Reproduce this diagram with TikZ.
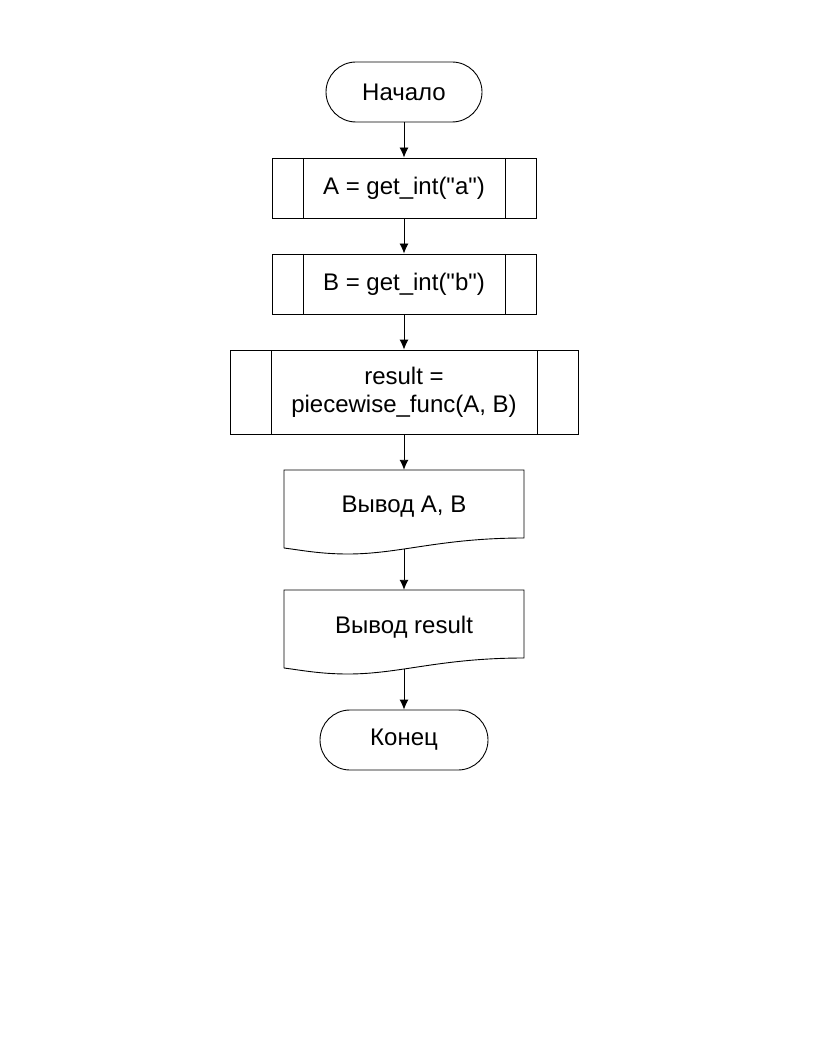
\documentclass[tikz,border=0pt]{standalone}
\usepackage{fontspec}
\setmainfont{Liberation Sans}[Ligatures=TeXOff]
\usetikzlibrary{arrows.meta}
\begin{document}
\begin{tikzpicture}[x=1pt,y=-1pt,
  every node/.style={font=\fontsize{24}{28}\selectfont, align=center, inner sep=0pt},
  line/.style={line width=0.9pt, draw=black},
  term/.style={line, rounded corners=30pt, minimum height=60pt},
  proc/.style={line, rectangle, minimum height=60pt},
  docbox/.style={minimum width=240pt, minimum height=74pt},
  arr/.style={line, -{Latex[length=10pt,width=9pt]}}
]
\useasboundingbox (0,0) rectangle (816,1056);
\fill[white] (0,0) rectangle (816,1056);

% Start
\node[term, minimum width=156pt] (start) at (404,92) {Начало};

% A = get_int
\node[proc, minimum width=264pt] (a) at (404,188) {A = get\_int("a")};
\draw[line] (303,158) -- (303,218) (505,158) -- (505,218);

% B = get_int
\node[proc, minimum width=264pt] (b) at (404,284) {B = get\_int("b")};
\draw[line] (303,254) -- (303,314) (505,254) -- (505,314);

% result
\node[proc, minimum width=348pt, minimum height=84pt] (r) at (404,392) {result =\\piecewise\_func(A, B)};
\draw[line] (271,350) -- (271,434) (537,350) -- (537,434);

% Output A, B
\node[docbox] (d1) at (404,507) {Вывод A, B};
\draw[line] (284,548) -- (284,470) -- (524,470) -- (524,538)
  .. controls (440,538) and (400,554) .. (348,554)
  .. controls (320,554) and (300,550) .. (284,548);
\coordinate (d1w) at (404,549);

% Output result
\node[docbox] (d2) at (404,627) {Вывод result};
\draw[line] (284,668) -- (284,590) -- (524,590) -- (524,658)
  .. controls (440,658) and (400,674) .. (348,674)
  .. controls (320,674) and (300,670) .. (284,668);
\coordinate (d2w) at (404,669);

% End
\node[term, minimum width=168pt] (end) at (404,740) {Конец};

% Connectors
\draw[arr] (start) -- (a);
\draw[arr] (a) -- (b);
\draw[arr] (b) -- (r);
\draw[arr] (r) -- (d1.north);
\draw[arr] (d1w) -- (d2.north);
\draw[arr] (d2w) -- (end);
\end{tikzpicture}
\end{document}
